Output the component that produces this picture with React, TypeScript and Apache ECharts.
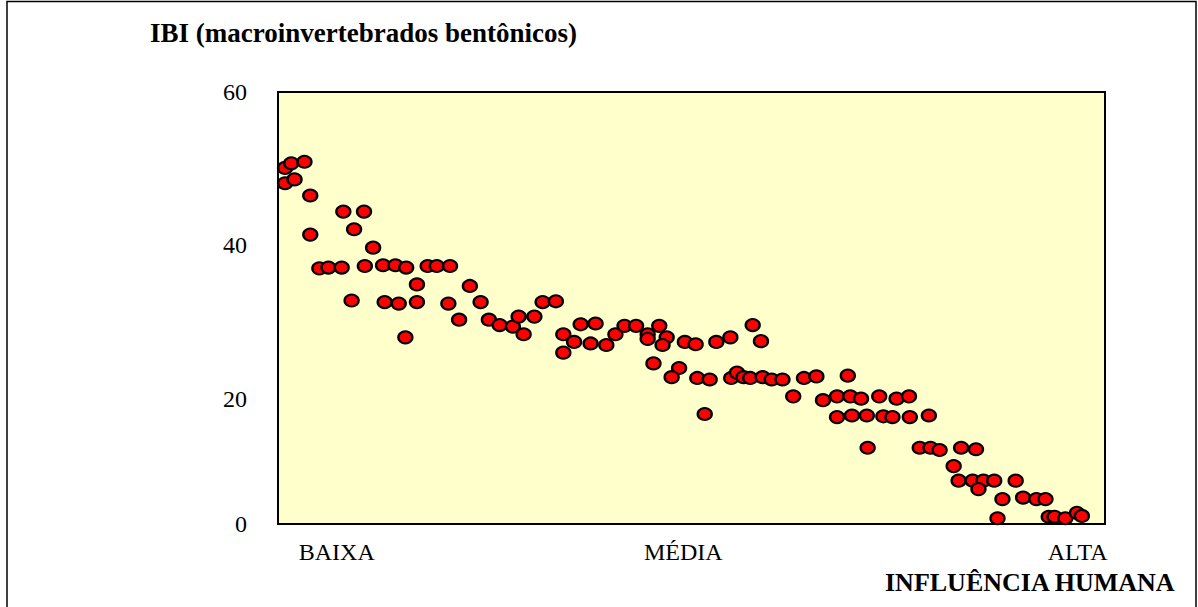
import React, { useEffect, useRef } from "react";
import * as echarts from "echarts";

// Sample position along the human-influence gradient (0 = lowest, 100 = highest)
const sampleX: number[] = [
  0.85, 1.6, 3.2, 0.85, 2.0, 3.9, 7.9, 10.4, 3.9, 9.2,
  11.5, 5.0, 6.1, 7.7, 10.5, 12.7, 14.2, 15.5, 18.1, 19.2,
  20.8, 16.8, 8.9, 12.9, 14.6, 16.8, 20.6, 15.4, 23.2, 24.5,
  21.9, 25.5, 26.8, 28.4, 29.1, 29.7, 31.0, 32.0, 33.6, 34.5,
  34.5, 35.8, 36.6, 38.4, 37.8, 39.7, 40.8, 41.9, 43.3, 44.7,
  44.7, 46.1, 47.0, 46.5, 45.4, 48.5, 47.6, 49.2, 50.5, 53.0,
  54.7, 57.4, 58.4, 50.7, 52.2, 51.6, 54.8, 55.5, 56.3, 57.1,
  58.6, 59.7, 61.0, 62.3, 63.6, 65.1, 68.9, 65.9, 67.6, 69.2,
  70.5, 72.7, 74.8, 76.3, 67.6, 69.4, 71.2, 73.2, 74.3, 76.4,
  78.7, 71.3, 77.6, 78.9, 80.0, 82.6, 84.4, 81.7, 82.3, 84.0,
  85.3, 86.6, 84.7, 89.2, 87.6, 90.1, 91.7, 92.8, 87.0, 93.2,
  93.9, 95.2, 96.6, 97.2,
];

// IBI score of each sample
const ibiValues: number[] = [
  50.1, 50.7, 50.9, 48.1, 48.6, 46.5, 44.4, 44.4, 41.4, 42.1,
  39.7, 37.0, 37.1, 37.1, 37.3, 37.4, 37.4, 37.1, 37.3, 37.3,
  37.3, 34.9, 32.8, 32.6, 32.4, 32.6, 32.4, 28.0, 34.7, 32.6,
  30.3, 30.3, 29.6, 29.4, 30.7, 28.4, 30.7, 32.6, 32.7, 28.4,
  26.0, 27.4, 29.7, 29.8, 27.2, 27.0, 28.4, 29.5, 29.5, 28.4,
  27.8, 29.5, 28.0, 27.0, 24.6, 24.0, 22.8, 27.4, 27.1, 27.4,
  28.0, 29.6, 27.5, 22.7, 22.5, 18.0, 22.7, 23.4, 22.8, 22.7,
  22.8, 22.5, 22.5, 20.3, 22.7, 22.9, 23.0, 19.8, 20.3, 20.3,
  20.0, 20.3, 20.0, 20.3, 17.6, 17.8, 17.8, 17.7, 17.6, 17.6,
  17.8, 13.6, 13.6, 13.6, 13.3, 13.6, 13.4, 11.2, 9.3, 9.3,
  9.3, 9.3, 8.2, 9.3, 6.9, 7.1, 6.9, 6.9, 4.4, 4.6,
  4.6, 4.4, 5.1, 4.7,
];

const xCategoryLabels: string[] = ["BAIXA", "MÉDIA", "ALTA"];
const yTickLabels: string[] = ["0", "20", "40", "60"];

const titleText = "IBI (macroinvertebrados bentônicos)";
const xAxisTitle = "INFLUÊNCIA HUMANA";

// layout constants (label anchor positions along axes)
const xLabelPositions = [7.1, 49.0, 96.7];
const Y_MIN = 3.65;
const yLabelPositions = [Y_MIN, 20, 40, 60];

const FONT = "'Liberation Serif', 'Times New Roman', serif";

export default function App() {
  const ref = useRef<HTMLDivElement>(null);

  useEffect(() => {
    if (!ref.current) return;
    const chart = echarts.init(ref.current, undefined, { renderer: "svg" });
    const points = sampleX.map((x, i) => [x, ibiValues[i]]);

    chart.setOption({
      animation: false,
      backgroundColor: "#ffffff",
      grid: {
        left: 278,
        top: 92,
        right: 93,
        bottom: 83,
        show: true,
        backgroundColor: "#FFFFCC",
        borderColor: "#000000",
        borderWidth: 2,
      },
      xAxis: {
        type: "value",
        min: 0,
        max: 100,
        axisLine: { show: false },
        axisTick: { show: false },
        splitLine: { show: false },
        axisLabel: {
          customValues: xLabelPositions,
          formatter: (v: number) => {
            const idx = xLabelPositions.indexOf(v);
            return idx >= 0 ? xCategoryLabels[idx] : "";
          },
          color: "#000",
          fontFamily: FONT,
          fontSize: 24,
          lineHeight: 24,
          margin: 16,
          hideOverlap: false,
        },
      },
      yAxis: {
        type: "value",
        min: Y_MIN,
        max: 60,
        axisLine: { show: false },
        axisTick: { show: false },
        splitLine: { show: false },
        axisLabel: {
          customValues: yLabelPositions,
          formatter: (v: number) => {
            const idx = yLabelPositions.indexOf(v);
            return idx >= 0 ? yTickLabels[idx] : "";
          },
          color: "#000",
          fontFamily: FONT,
          fontSize: 24,
          margin: 31,
          showMinLabel: true,
          showMaxLabel: true,
        },
      },
      series: [
        {
          type: "scatter",
          data: points,
          symbol: "circle",
          symbolSize: [14, 12],
          itemStyle: {
            color: "#FF0000",
            borderColor: "#000000",
            borderWidth: 2.2,
            opacity: 1,
          },
          emphasis: { disabled: true },
        },
      ],
      graphic: [
        {
          type: "rect",
          shape: { x: 7, y: 1.5, width: 1189, height: 620 },
          style: { fill: "none", stroke: "#000", lineWidth: 1.5 },
          silent: true,
        },
        {
          type: "text",
          x: 150,
          y: 33,
          style: {
            text: titleText,
            font: `bold 27px ${FONT}`,
            fill: "#000",
            verticalAlign: "middle",
          },
        },
        {
          type: "text",
          x: 885,
          y: 582,
          style: {
            text: xAxisTitle,
            font: `bold 26px ${FONT}`,
            fill: "#000",
            verticalAlign: "middle",
          },
        },
      ],
    });

    return () => chart.dispose();
  }, []);

  return (
    <div
      ref={ref}
      style={{ position: "fixed", left: 0, top: 0, width: 1198, height: 607 }}
    />
  );
}
